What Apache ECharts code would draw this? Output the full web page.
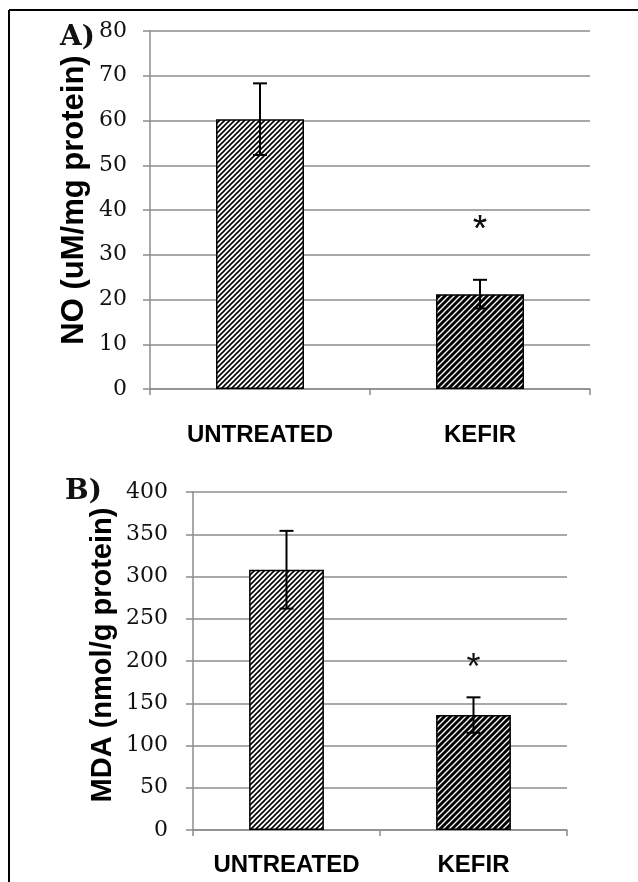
<!DOCTYPE html>
<html>
<head>
<meta charset="utf-8">
<script src="https://cdn.jsdelivr.net/npm/echarts@6/dist/echarts.min.js"></script>
<style>
html,body{margin:0;padding:0;background:#fff;}
#chart{width:638px;height:882px;}
</style>
</head>
<body>
<div id="chart"></div>
<script>
// ---- data ----
const categories = ['UNTREATED', 'KEFIR'];
const noMean = [60.3, 21.2];
const noErr = [8.0, 3.2];
const noStar = [null, 35.3];
const mdaMean = [308, 136];
const mdaErr = [46, 21];
const mdaStar = [null, 190];
const noTicks = { min: 0, max: 80, interval: 10 };
const mdaTicks = { min: 0, max: 400, interval: 50 };

function makePattern(bg, fg, size, lw) {
  const c = document.createElement('canvas');
  c.width = size; c.height = size;
  const ctx = c.getContext('2d');
  ctx.fillStyle = bg; ctx.fillRect(0, 0, size, size);
  ctx.strokeStyle = fg; ctx.lineWidth = lw;
  ctx.beginPath();
  ctx.moveTo(-1, size + 1); ctx.lineTo(size + 1, -1);
  ctx.moveTo(-1, 1); ctx.lineTo(1, -1);
  ctx.moveTo(size - 1, size + 1); ctx.lineTo(size + 1, size - 1);
  ctx.stroke();
  return { image: c, repeat: 'repeat' };
}
const patterns = [
  makePattern('#ffffff', '#000000', 5, 1.6),
  makePattern('#000000', '#ffffff', 6, 1.3)
];

const gridColor = '#8c8c8c';
const serif = 'DejaVu Serif';
const sans = 'Liberation Sans';

function yAxisCfg(gridIndex, t, margin) {
  return {
    type: 'value', gridIndex: gridIndex, min: t.min, max: t.max, interval: t.interval,
    axisLine: { show: true, lineStyle: { color: gridColor, width: 1.5 } },
    axisTick: { show: true, length: 7, lineStyle: { color: gridColor, width: 1.5 } },
    splitLine: { show: true, lineStyle: { color: gridColor, width: 1.5 } },
    axisLabel: { fontFamily: serif, fontSize: 22, color: '#111', margin: margin }
  };
}
function xAxisCfg(gridIndex, margin) {
  return {
    type: 'category', gridIndex: gridIndex, data: categories,
    axisLine: { show: true, lineStyle: { color: gridColor, width: 1.5 } },
    axisTick: { show: true, interval: 0, length: 6, lineStyle: { color: gridColor, width: 1.5 } },
    axisLabel: { interval: 0, hideOverlap: false, fontFamily: sans, fontWeight: 'bold', fontSize: 24, color: '#000', margin: margin }
  };
}
function barSeries(idx, means) {
  return {
    type: 'bar', xAxisIndex: idx, yAxisIndex: idx, barWidth: '40%',
    data: means.map((v, i) => ({ value: v, itemStyle: { color: patterns[i], borderColor: '#000', borderWidth: 1.5 } })),
    z: 2
  };
}
function errSeries(idx, means, errs) {
  return {
    type: 'custom', xAxisIndex: idx, yAxisIndex: idx, z: 5,
    data: means.map((v, i) => [i, v + errs[i], v - errs[i]]),
    encode: { x: 0, y: [1, 2] },
    renderItem: function (params, api) {
      const hi = api.coord([api.value(0), api.value(1)]);
      const lo = api.coord([api.value(0), api.value(2)]);
      const hw = 7;
      const st = { stroke: '#000', lineWidth: 2 };
      return {
        type: 'group', children: [
          { type: 'line', shape: { x1: hi[0], y1: hi[1], x2: lo[0], y2: lo[1] }, style: st },
          { type: 'line', shape: { x1: hi[0] - hw, y1: hi[1], x2: hi[0] + hw, y2: hi[1] }, style: st },
          { type: 'line', shape: { x1: lo[0] - hw, y1: lo[1], x2: lo[0] + hw, y2: lo[1] }, style: st }
        ]
      };
    }
  };
}
function starSeries(idx, stars) {
  return {
    type: 'custom', xAxisIndex: idx, yAxisIndex: idx, z: 6,
    data: stars.map((v, i) => v == null ? [i, '-'] : [i, v]),
    encode: { x: 0, y: 1 },
    renderItem: function (params, api) {
      const p = api.coord([api.value(0), api.value(1)]);
      return {
        type: 'text', x: p[0], y: p[1],
        style: { text: '*', fontFamily: 'Liberation Sans', fontSize: 36, fill: '#111', align: 'center', verticalAlign: 'middle' }
      };
    }
  };
}

const chart = echarts.init(document.getElementById('chart'), null, { renderer: 'canvas' });
chart.setOption({
  animation: false,
  backgroundColor: '#fff',
  grid: [
    { left: 150, right: 48, top: 31, bottom: 493 },
    { left: 193, right: 71, top: 492, bottom: 52 }
  ],
  xAxis: [xAxisCfg(0, 34), xAxisCfg(1, 23)],
  yAxis: [yAxisCfg(0, noTicks, 23), yAxisCfg(1, mdaTicks, 25)],
  series: [
    barSeries(0, noMean), errSeries(0, noMean, noErr), starSeries(0, noStar),
    barSeries(1, mdaMean), errSeries(1, mdaMean, mdaErr), starSeries(1, mdaStar)
  ],
  graphic: [
    { type: 'line', shape: { x1: 9, y1: 10, x2: 640, y2: 10 }, style: { stroke: '#000', lineWidth: 2 } },
    { type: 'line', shape: { x1: 9, y1: 10, x2: 9, y2: 884 }, style: { stroke: '#000', lineWidth: 2 } },
    { type: 'text', x: 60, y: 38, style: { text: 'A)', fontFamily: serif, fontWeight: 'bold', fontSize: 28, fill: '#111', align: 'left', verticalAlign: 'middle' } },
    { type: 'text', x: 65, y: 492, style: { text: 'B)', fontFamily: serif, fontWeight: 'bold', fontSize: 28, fill: '#111', align: 'left', verticalAlign: 'middle' } },
    { type: 'text', x: 74, y: 200, rotation: Math.PI / 2, style: { text: 'NO (uM/mg protein)', fontFamily: sans, fontWeight: 'bold', fontSize: 31, fill: '#000', align: 'center', verticalAlign: 'middle' } },
    { type: 'text', x: 103, y: 655, rotation: Math.PI / 2, style: { text: 'MDA (nmol/g protein)', fontFamily: sans, fontWeight: 'bold', fontSize: 29, fill: '#000', align: 'center', verticalAlign: 'middle' } }
  ]
});
</script>
</body>
</html>
